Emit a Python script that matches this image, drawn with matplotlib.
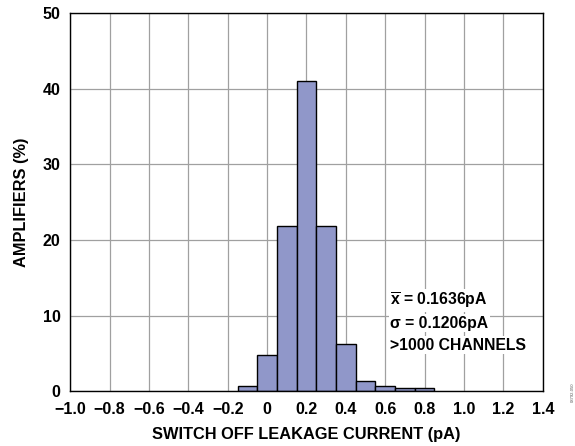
import matplotlib
matplotlib.use('Agg')
import matplotlib.pyplot as plt

plt.rcParams['font.family'] = ['Liberation Sans', 'DejaVu Sans']
plt.rcParams['font.weight'] = 'bold'
plt.rcParams['mathtext.fontset'] = 'custom'
plt.rcParams['mathtext.bf'] = 'Liberation Sans:bold'
plt.rcParams['mathtext.rm'] = 'Liberation Sans:bold'

# bin centres (pA) and percentage of amplifiers
centers = [-0.1, 0.0, 0.1, 0.2, 0.3, 0.4, 0.5, 0.6, 0.7, 0.8]
percent = [0.65, 4.8, 21.8, 41.0, 21.8, 6.2, 1.3, 0.65, 0.35, 0.35]
xticks = [-1.0, -0.8, -0.6, -0.4, -0.2, 0, 0.2, 0.4, 0.6, 0.8, 1.0, 1.2, 1.4]
xlabels = ['−1.0', '−0.8', '−0.6', '−0.4', '−0.2', '0', '0.2', '0.4', '0.6', '0.8', '1.0', '1.2', '1.4']
yticks = [0, 10, 20, 30, 40, 50]

fig = plt.figure(figsize=(5.75, 4.46), dpi=100)
ax = fig.add_axes([0.122, 0.123, 0.822, 0.848])

ax.bar(centers, percent, width=0.1, color='#9097c9', edgecolor='black', linewidth=1.0, zorder=3)

ax.set_xlim(-1.0, 1.4)
ax.set_ylim(0, 50)
ax.set_xticks(xticks)
ax.set_xticklabels(xlabels)
ax.set_yticks(yticks)
ax.grid(True, color='#a0a0a0', linewidth=0.9, zorder=0)
ax.tick_params(length=0, labelsize=11.5)
ax.tick_params(axis='x', pad=8)
ax.tick_params(axis='y', pad=7)
for s in ax.spines.values():
    s.set_linewidth(1.0)
    s.set_zorder(4)

ax.set_xlabel('SWITCH OFF LEAKAGE CURRENT (pA)', fontsize=11.8, fontweight='bold', labelpad=7)
ax.set_ylabel('AMPLIFIERS (%)', fontsize=11.8, fontweight='bold', labelpad=10)

box = dict(facecolor='white', edgecolor='none', pad=1)
ax.text(0.625, 12.0, r'$\overline{\mathbf{x}}$ = 0.1636pA', fontsize=11.3, fontweight='bold',
        va='center', zorder=5, bbox=box)
ax.text(0.625, 9.0, 'σ = 0.1206pA', fontsize=11.3, fontweight='bold', va='center', zorder=5, bbox=box)
ax.text(0.625, 6.1, '>1000 CHANNELS', fontsize=11.3, fontweight='bold', va='center', zorder=5, bbox=box)

fig.text(0.992, 0.1, '08792-050', fontsize=3, rotation=90, fontweight='normal', color='#555555')

fig.savefig('out.png', dpi=100)
